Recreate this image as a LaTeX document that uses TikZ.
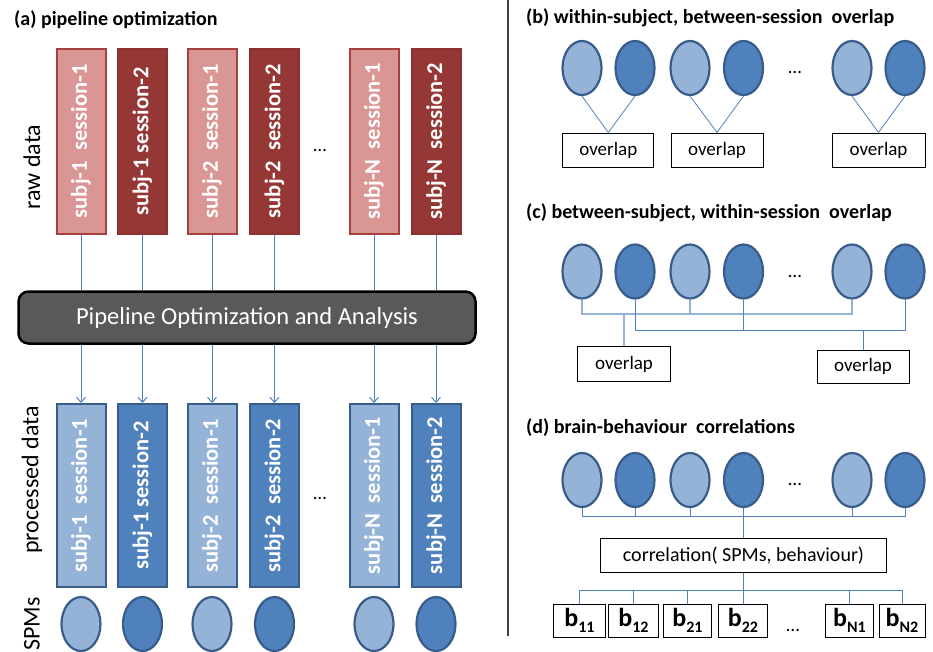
\documentclass[tikz,border=0pt]{standalone}
\usepackage{fontspec}
\setmainfont{Carlito}
\usetikzlibrary{shapes.geometric,arrows.meta}
\definecolor{rawlight}{HTML}{D99694}
\definecolor{rawlightborder}{HTML}{A5403E}
\definecolor{rawdark}{HTML}{953735}
\definecolor{rawdarkborder}{HTML}{8A3230}
\definecolor{proclight}{HTML}{95B3D7}
\definecolor{procdark}{HTML}{4F81BD}
\definecolor{procborder}{HTML}{385D8A}
\definecolor{linkblue}{HTML}{4F81BD}
\definecolor{linklight}{HTML}{95B3D7}
\definecolor{pipegray}{HTML}{595959}
\newcommand{\bsub}[1]{\textbf{b}\raisebox{-0.25em}{\fontsize{16}{16}\selectfont\bfseries #1}}
\begin{document}
\begin{tikzpicture}[x=1pt,y=-1pt,
  colbox/.style={draw, line width=2pt, minimum width=49pt, inner sep=0pt},
  rl/.style={colbox, fill=rawlight, draw=rawlightborder, minimum height=185pt},
  rd/.style={colbox, fill=rawdark, draw=rawdarkborder, minimum height=185pt},
  pl/.style={colbox, fill=proclight, draw=procborder, minimum height=183pt},
  pd/.style={colbox, fill=procdark, draw=procborder, minimum height=183pt},
  coltext/.style={rotate=90, text=white, inner sep=0pt, font=\fontsize{22.5}{22.5}\selectfont\bfseries},
  spm/.style={ellipse, draw=procborder, line width=2.2pt, minimum width=39pt, minimum height=54pt, inner sep=0pt},
  spml/.style={spm, fill=proclight},
  spmd/.style={spm, fill=procdark},
  conn/.style={draw=linkblue, line width=1pt},
  connl/.style={draw=linklight, line width=1.2pt},
  arr/.style={conn, -{Straight Barb[length=5pt,width=9pt]}},
  txtbox/.style={draw=black, line width=1pt, fill=white, inner sep=0pt, font=\fontsize{19}{19}\selectfont},
  ttl/.style={anchor=base west, inner sep=0pt, font=\fontsize{20}{20}\selectfont\bfseries},
  side/.style={rotate=90, inner sep=0pt, font=\fontsize{24}{24}\selectfont},
  dotsn/.style={inner sep=0pt, font=\fontsize{19}{19}\selectfont}
]
\useasboundingbox (0,0) rectangle (933,651);

% ---------- panel (a) ----------
\node[ttl] (ta) at (14,25) {(a) pipeline optimization};

\node[rl] (r1) at (81,141.3) {};
\node[rd] (r2) at (142.5,141.3) {};
\node[rl] (r3) at (212,141.3) {};
\node[rd] (r4) at (274.5,141.3) {};
\node[rl] (r5) at (374,141.3) {};
\node[rd] (r6) at (436,141.3) {};
\node[coltext] (tr1) at (r1) {subj-1\ \ session-1};
\node[coltext] (tr2) at (r2) {subj-1 session-2};
\node[coltext] (tr3) at (r3) {subj-2\ \ session-1};
\node[coltext] (tr4) at (r4) {subj-2\ \ session-2};
\node[coltext] (tr5) at (r5) {subj-N\ \ session-1};
\node[coltext] (tr6) at (r6) {subj-N\ \ session-2};
\node[dotsn] (dr) at (320,150) {…};

\node[side] (lraw) at (32,167) {raw data};

\node[draw=black, line width=2.5pt, fill=pipegray, rounded corners=10pt,
      minimum width=457pt, minimum height=52pt, inner sep=0pt,
      text=white, font=\fontsize{24.5}{24.5}\selectfont] (pipe) at (247,317.5) {Pipeline Optimization and Analysis};

\node[pl] (p1) at (81,495.5) {};
\node[pd] (p2) at (142.5,495.5) {};
\node[pl] (p3) at (212,495.5) {};
\node[pd] (p4) at (274.5,495.5) {};
\node[pl] (p5) at (374,495.5) {};
\node[pd] (p6) at (436,495.5) {};
\node[coltext] (tp1) at (p1) {subj-1\ \ session-1};
\node[coltext] (tp2) at (p2) {subj-1 session-2};
\node[coltext] (tp3) at (p3) {subj-2\ \ session-1};
\node[coltext] (tp4) at (p4) {subj-2\ \ session-2};
\node[coltext] (tp5) at (p5) {subj-N\ \ session-1};
\node[coltext] (tp6) at (p6) {subj-N\ \ session-2};
\node[dotsn] (dp) at (320,498) {…};

\node[side] (lproc) at (32,480) {processed data};

\foreach \i in {1,...,6} {
  \draw[conn] (r\i.south) -- (r\i.south |- pipe.north);
  \draw[arr] (p\i.north |- pipe.south) -- (p\i.north);
}

\node[spml] (s1) at (81,624) {};
\node[spmd] (s2) at (142.5,624) {};
\node[spml] (s3) at (212,624) {};
\node[spmd] (s4) at (274.5,624) {};
\node[spml] (s5) at (374,624) {};
\node[spmd] (s6) at (436,624) {};
\node[side] (lspm) at (32,624) {SPMs};

% separator
\coordinate (sepT) at (508,0);
\coordinate (sepB) at (508,636);
\draw[line width=1.2pt, black!75] (sepT) -- (sepB);

% ---------- panel (b) ----------
\node[ttl] (tb) at (526,23) {(b) within-subject, between-session\ \ overlap};
\node[spml] (b1) at (582,68) {};
\node[spmd] (b2) at (635,68) {};
\node[spml] (b3) at (690,68) {};
\node[spmd] (b4) at (743.5,68) {};
\node[dotsn] (db) at (795,72) {…};
\node[spml] (b5) at (852,68) {};
\node[spmd] (b6) at (905,68) {};
\node[txtbox, minimum width=91pt, minimum height=34pt] (ob1) at (608.3,150) {overlap};
\node[txtbox, minimum width=92pt, minimum height=34pt] (ob2) at (717,150) {overlap};
\node[txtbox, minimum width=93pt, minimum height=34pt] (ob3) at (878.5,150) {overlap};
\draw[conn, line width=0.8pt] (b1.south) -- (ob1.north);
\draw[conn, line width=0.8pt] (b2.south) -- (ob1.north);
\draw[conn, line width=0.8pt] (b3.south) -- (ob2.north);
\draw[conn, line width=0.8pt] (b4.south) -- (ob2.north);
\draw[conn, line width=0.8pt] (b5.south) -- (ob3.north);
\draw[conn, line width=0.8pt] (b6.south) -- (ob3.north);

% ---------- panel (c) ----------
\node[ttl] (tc) at (526,218) {(c) between-subject, within-session\ \ overlap};
\node[spml] (c1) at (582,271.5) {};
\node[spmd] (c2) at (635,271.5) {};
\node[spml] (c3) at (690,271.5) {};
\node[spmd] (c4) at (743.5,271.5) {};
\node[dotsn] (dc) at (795,276) {…};
\node[spml] (c5) at (852,271.5) {};
\node[spmd] (c6) at (905,271.5) {};
\node[txtbox, minimum width=93pt, minimum height=35pt] (oc1) at (624,364) {overlap};
\node[txtbox, minimum width=92pt, minimum height=33pt] (oc2) at (863,366.5) {overlap};
\coordinate (hl) at (0,314);
\coordinate (hd) at (0,330);
\draw[connl] (c1.south) -- (c1.south |- hl) -- (c5.south |- hl) -- (c5.south);
\draw[connl] (c3.south) -- (c3.south |- hl);
\draw[connl] (oc1.north) -- (oc1.north |- hl);
\draw[conn] (c2.south) -- (c2.south |- hd) -- (c6.south |- hd) -- (c6.south);
\draw[conn] (c4.south) -- (c4.south |- hd);
\draw[conn] (oc2.north) -- (oc2.north |- hd);

% ---------- panel (d) ----------
\node[ttl] (td) at (526,433) {(d) brain-behaviour\ \ correlations};
\node[spml] (d1) at (582,480) {};
\node[spmd] (d2) at (635,480) {};
\node[spml] (d3) at (690,480) {};
\node[spmd] (d4) at (743.5,480) {};
\node[dotsn] (dd) at (795,484) {…};
\node[spml] (d5) at (852,480) {};
\node[spmd] (d6) at (905,480) {};
\node[txtbox, minimum width=286pt, minimum height=34.5pt, font=\fontsize{20}{20}\selectfont] (corr) at (743.5,555.5) {correlation( SPMs, behaviour)};
\coordinate (hd2) at (0,516.7);
\draw[conn] (d1.south) -- (d1.south |- hd2) -- (d6.south |- hd2) -- (d6.south);
\foreach \n in {d2,d3,d5} { \draw[conn] (\n.south) -- (\n.south |- hd2); }
\draw[conn] (d4.south) -- (corr.north);

\node[txtbox, minimum width=52pt, minimum height=33pt, font=\fontsize{26}{26}\selectfont] (x11) at (579.5,620.5) {\bsub{11}};
\node[txtbox, minimum width=50pt, minimum height=33pt, font=\fontsize{26}{26}\selectfont] (x12) at (633.5,620.5) {\bsub{12}};
\node[txtbox, minimum width=48pt, minimum height=33pt, font=\fontsize{26}{26}\selectfont] (x21) at (687.5,620.5) {\bsub{21}};
\node[txtbox, minimum width=49pt, minimum height=33pt, font=\fontsize{26}{26}\selectfont] (x22) at (743,620.5) {\bsub{22}};
\node[dotsn] (dx) at (793,630) {…};
\node[txtbox, minimum width=48pt, minimum height=33pt, font=\fontsize{26}{26}\selectfont] (xn1) at (849.5,620.5) {\bsub{N1}};
\node[txtbox, minimum width=46pt, minimum height=33pt, font=\fontsize{26}{26}\selectfont] (xn2) at (902,620.5) {\bsub{N2}};
\coordinate (hb) at (0,590);
\draw[conn] (corr.south) -- (corr.south |- hb);
\draw[conn] (x11.north |- hb) -- (xn2.north |- hb);
\foreach \n in {x11,x12,x21,x22,xn1,xn2} { \draw[conn] (\n.north |- hb) -- (\n.north); }
\end{tikzpicture}
\end{document}
